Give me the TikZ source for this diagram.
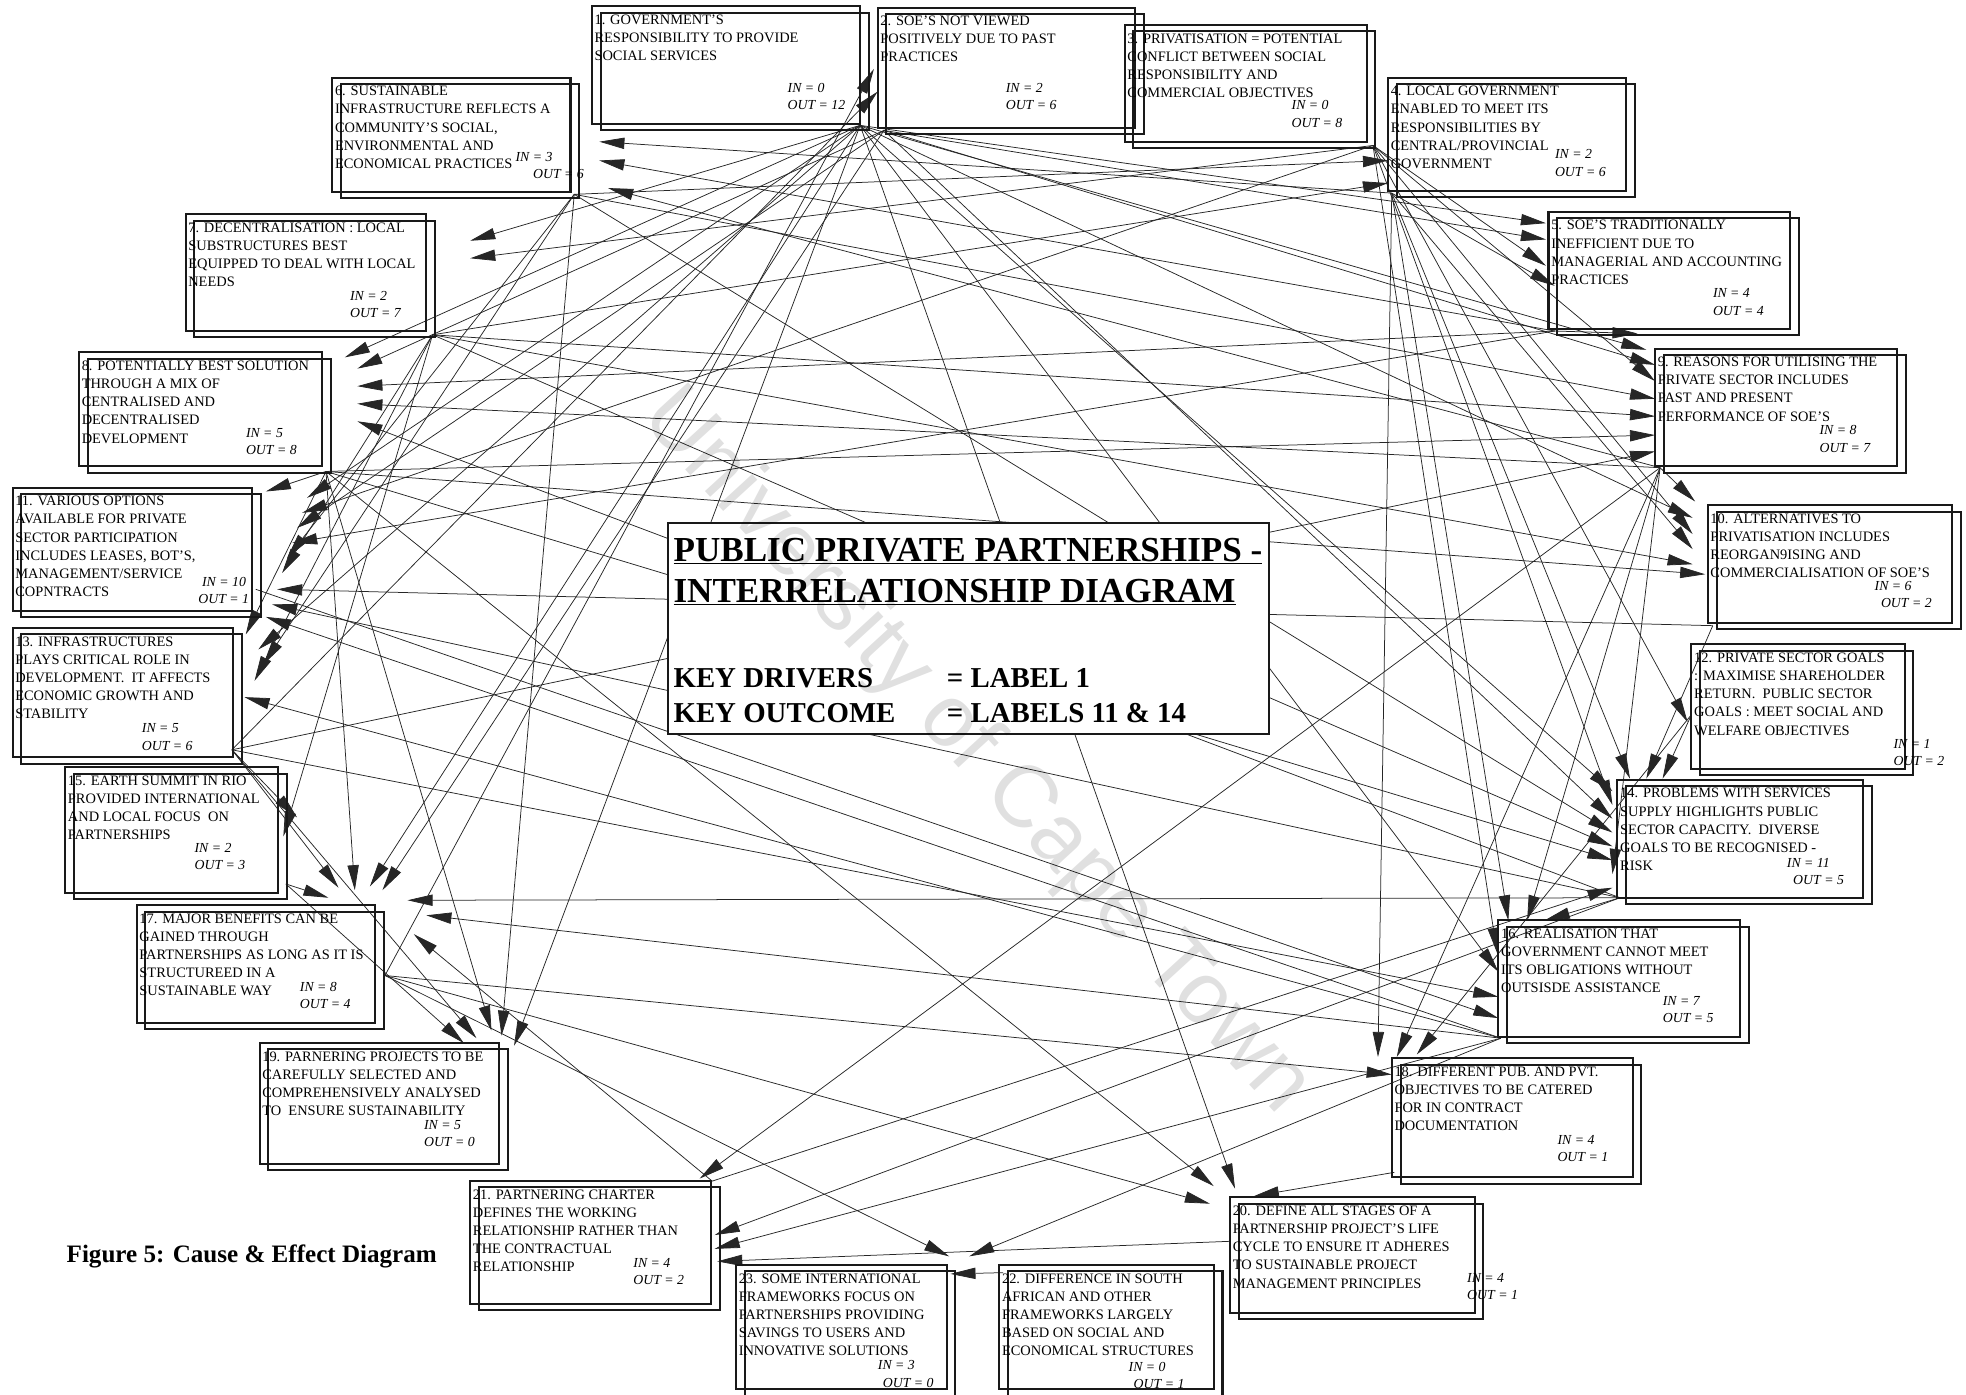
\documentclass[tikz,border=0pt]{standalone}
\usepackage{fontspec}
\setmainfont{Liberation Serif}
\setsansfont{Liberation Sans}
\usetikzlibrary{arrows.meta,calc}

\tikzset{
  boxA/.style={draw=black!90, line width=1.6pt, inner sep=0pt, outer sep=0pt, anchor=north west},
  boxB/.style={draw=black!90, line width=1.6pt},
  boxtext/.style={font=\fontsize{11.5}{14.5}\selectfont, align=left, inner sep=0pt, anchor=north west},
  tally/.style={font=\fontsize{11}{14}\selectfont\itshape, inner sep=0pt, anchor=west},
  conn/.style={draw=black!85, line width=0.6pt, -{Triangle[length=20pt,width=9pt]}},
  titletext/.style={font=\fontsize{28}{33}\selectfont\bfseries, inner sep=0pt, anchor=base west},
  keytext/.style={font=\fontsize{23}{28}\selectfont\bfseries, inner sep=0pt, anchor=base west},
}

% double-framed issue box: id, x1, y1, x2, y2, text
\newcommand\ppbox[6]{%
  \node[boxA, minimum width={#4-#2}, minimum height={#5-#3}] (b#1) at (#2,#3) {};
  \draw[boxB] ($(b#1.north west)+(7,5)$) rectangle ($(b#1.south east)+(7,5)$);
  \node[boxtext] (b#1t) at (#2+2,#3+6.5) {#6};}
% in/out tallies: id, x, y, in, out, shift of the OUT line
\newcommand\ppcount[6]{%
  \node[tally] (b#1i) at (#2,#3) {IN = #4};
  \node[tally] (b#1o) at (#2+#6,#3+14) {OUT = #5};}

\begin{document}
\begin{tikzpicture}[x=1pt,y=-1pt]
\useasboundingbox (0,0) rectangle (1568,1112);

% ---------- start points of the connectors ----------
\coordinate (o1) at (686,100);
\coordinate (o2) at (705,104);
\coordinate (o3) at (1095,116);
\coordinate (o4) at (1110,154);
\coordinate (o5) at (1240,264);
\coordinate (o6) at (458,155);
\coordinate (o7) at (345,267);
\coordinate (o8) at (260,376);
\coordinate (o9) at (1324,373);
\coordinate (o10) at (1366,499);
\coordinate (o11) at (204,470);
\coordinate (o12) at (1349,570);
\coordinate (o13) at (185,598);
\coordinate (o14) at (1292,716);
\coordinate (o15) at (228,705);
\coordinate (o16) at (1197,828);
\coordinate (o17) at (307,778);
\coordinate (o18) at (1112,935);
\coordinate (o20) at (981,990);
\coordinate (o21) at (568,942);
\coordinate (o22) at (800,1015);

% ---------- arrow tips ----------
\coordinate (t2a) at (697,55);  \coordinate (t2b) at (700,73);
\coordinate (t4a) at (1107,128); \coordinate (t4b) at (1107,146);
\coordinate (t5a) at (1233,178); \coordinate (t5b) at (1233,191);
\coordinate (t5c) at (1233,212); \coordinate (t5d) at (1240,228);
\coordinate (t6a) at (478,113); \coordinate (t6b) at (478,128); \coordinate (t6c) at (485,150);
\coordinate (t7a) at (375,192); \coordinate (t7b) at (375,206);
\coordinate (t8a) at (275,285); \coordinate (t8b) at (285,294); \coordinate (t8c) at (285,308);
\coordinate (t8d) at (285,322); \coordinate (t8e) at (285,336);
\coordinate (t9a) at (1306,266); \coordinate (t9b) at (1313,279); \coordinate (t9c) at (1320,291);
\coordinate (t9d) at (1320,304); \coordinate (t9e) at (1320,318); \coordinate (t9f) at (1320,332);
\coordinate (t9g) at (1320,347); \coordinate (t9h) at (1320,360);
\coordinate (t10a) at (1352,400); \coordinate (t10b) at (1350,413); \coordinate (t10c) at (1350,426);
\coordinate (t10d) at (1350,438); \coordinate (t10e) at (1350,450); \coordinate (t10f) at (1360,458);
\coordinate (t11a) at (212,392); \coordinate (t11b) at (245,397); \coordinate (t11c) at (241,409);
\coordinate (t11d) at (237,421); \coordinate (t11e) at (233,433); \coordinate (t11f) at (229,445);
\coordinate (t11g) at (225,457); \coordinate (t11h) at (221,470); \coordinate (t11i) at (217,482);
\coordinate (t11j) at (212,492);
\coordinate (t12a) at (1346,576);
\coordinate (t13a) at (196,506); \coordinate (t13b) at (206,518); \coordinate (t13c) at (210,530);
\coordinate (t13d) at (203,543); \coordinate (t13e) at (195,556);
\coordinate (t14a) at (1300,621); \coordinate (t14b) at (1313,621); \coordinate (t14c) at (1326,621);
\coordinate (t14d) at (1286,631); \coordinate (t14e) at (1286,642); \coordinate (t14f) at (1286,653);
\coordinate (t14g) at (1286,664); \coordinate (t14h) at (1286,675); \coordinate (t14i) at (1286,686);
\coordinate (t14j) at (1286,697); \coordinate (t14k) at (1286,708);
\coordinate (t15a) at (237,652); \coordinate (t15b) at (226,667);
\coordinate (t16a) at (1203,734); \coordinate (t16b) at (1218,734); \coordinate (t16c) at (1232,734);
\coordinate (t16d) at (1194,760); \coordinate (t16e) at (1195,775); \coordinate (t16f) at (1195,795);
\coordinate (t16g) at (1195,812);
\coordinate (t17a) at (262,716); \coordinate (t17b) at (270,708); \coordinate (t17c) at (283,710);
\coordinate (t17d) at (295,707); \coordinate (t17e) at (305,710); \coordinate (t17f) at (325,718);
\coordinate (t17g) at (340,730); \coordinate (t17h) at (330,745);
\coordinate (t18a) at (1099,843); \coordinate (t18b) at (1114,843); \coordinate (t18c) at (1130,841);
\coordinate (t18d) at (1110,857);
\coordinate (t19a) at (370,832); \coordinate (t19b) at (380,828); \coordinate (t19c) at (392,822);
\coordinate (t19d) at (400,826); \coordinate (t19e) at (410,834);
\coordinate (t20a) at (968,946); \coordinate (t20b) at (965,960); \coordinate (t20c) at (985,948);
\coordinate (t20d) at (1000,954);
\coordinate (t21a) at (558,940); \coordinate (t21b) at (570,985); \coordinate (t21c) at (570,996);
\coordinate (t21d) at (572,1006);
\coordinate (t23a) at (757,1002); \coordinate (t23b) at (773,1002); \coordinate (t23c) at (758,1016);

% ---------- cause -> effect connectors ----------
\foreach \s/\t in {
  o1/t5a, o1/t7a, o1/t8a, o1/t9b, o1/t10b, o1/t11b, o1/t13b, o1/t14d, o1/t16e, o1/t17d, o1/t19e, o1/t20c,
  o2/t5b, o2/t8b, o2/t9c, o2/t11d, o2/t14f, o2/t17e,
  o3/t5c, o3/t7b, o3/t9d, o3/t10c, o3/t11c, o3/t12a, o3/t14e, o3/t16d,
  o4/t5d, o4/t6a, o4/t10d, o4/t14a, o4/t16a, o4/t18a,
  o5/t6b, o5/t8c, o5/t9a, o5/t11e,
  o6/t4a, o6/t9e, o6/t11f, o6/t13c, o6/t14g, o6/t19d,
  o7/t4b, o7/t9f, o7/t10e, o7/t11g, o7/t13d, o7/t14h, o7/t15b,
  o8/t9g, o8/t10f, o8/t11a, o8/t13a, o8/t14i, o8/t17c, o8/t19c, o8/t20a,
  o9/t6c, o9/t8d, o9/t10a, o9/t14j, o9/t16b, o9/t18b, o9/t21a,
  o10/t11h, o10/t14b,
  o11/t16g,
  o12/t14c, o12/t18c,
  o13/t2b, o13/t9h, o13/t15a, o13/t16f, o13/t17b, o13/t19b,
  o14/t8e, o14/t11i, o14/t16c, o14/t17f, o14/t21b,
  o15/t17a, o15/t19a,
  o16/t11j, o16/t13e, o16/t17g, o16/t21c, o16/t23b,
  o17/t2a, o17/t18d, o17/t20b, o17/t23a,
  o18/t20d, o20/t21d, o21/t14k, o21/t17h, o22/t23c}
  \draw[conn] (\s) -- (\t);

% ---------- issue boxes ----------
\ppbox{1}{472}{5}{686}{99}{1. GOVERNMENT'S\\RESPONSIBILITY TO PROVIDE\\SOCIAL SERVICES}
\ppcount{1}{628}{70}{0}{12}{0}
\ppbox{2}{700}{6}{905}{102}{2. SOE'S NOT VIEWED\\POSITIVELY DUE TO PAST\\PRACTICES}
\ppcount{2}{802}{70}{2}{6}{0}
\ppbox{3}{897}{20}{1090}{113}{3. PRIVATISATION = POTENTIAL\\CONFLICT BETWEEN SOCIAL\\RESPONSIBILITY AND\\COMMERCIAL OBJECTIVES}
\ppcount{3}{1030}{84}{0}{8}{0}
\ppbox{4}{1107}{62}{1297}{152}{4. LOCAL GOVERNMENT\\ENABLED TO MEET ITS\\RESPONSIBILITIES BY\\CENTRAL/PROVINCIAL\\GOVERNMENT}
\ppcount{4}{1240}{123}{2}{6}{0}
\ppbox{5}{1235}{169}{1428}{262}{5. SOE'S TRADITIONALLY\\INEFFICIENT DUE TO\\MANAGERIAL AND ACCOUNTING\\PRACTICES}
\ppcount{5}{1366}{234}{4}{4}{0}
\ppbox{6}{265}{62}{455}{153}{6. SUSTAINABLE\\INFRASTRUCTURE REFLECTS A\\COMMUNITY'S SOCIAL,\\ENVIRONMENTAL AND\\ECONOMICAL PRACTICES}
\ppcount{6}{411}{125}{3}{6}{14}
\ppbox{7}{148}{171}{340}{264}{7. DECENTRALISATION : LOCAL\\SUBSTRUCTURES BEST\\EQUIPPED TO DEAL WITH LOCAL\\NEEDS}
\ppcount{7}{279}{236}{2}{7}{0}
\ppbox{8}{63}{281}{257}{372}{8. POTENTIALLY BEST SOLUTION\\THROUGH A MIX OF\\CENTRALISED AND\\DECENTRALISED\\DEVELOPMENT}
\ppcount{8}{196}{345}{5}{8}{0}
\ppbox{9}{1320}{278}{1513}{372}{9. REASONS FOR UTILISING THE\\PRIVATE SECTOR INCLUDES\\PAST AND PRESENT\\PERFORMANCE OF SOE'S}
\ppcount{9}{1451}{343}{8}{7}{0}
\ppbox{10}{1362}{403}{1557}{497}{10. ALTERNATIVES TO\\PRIVATISATION INCLUDES\\REORGAN9ISING AND\\COMMERCIALISATION OF SOE'S}
\ppcount{10}{1495}{467}{6}{2}{5}
\ppbox{11}{10}{389}{201}{487}{11. VARIOUS OPTIONS\\AVAILABLE FOR PRIVATE\\SECTOR PARTICIPATION\\INCLUDES LEASES, BOT'S,\\MANAGEMENT/SERVICE\\COPNTRACTS}
\ppcount{11}{161}{464}{10}{1}{-3}
\ppbox{12}{1349}{514}{1519}{613}{12. PRIVATE SECTOR GOALS\\: MAXIMISE SHAREHOLDER\\RETURN.~ PUBLIC SECTOR\\GOALS : MEET SOCIAL AND\\WELFARE OBJECTIVES}
\ppcount{12}{1510}{593}{1}{2}{0}
\ppbox{13}{10}{501}{186}{604}{13. INFRASTRUCTURES\\PLAYS CRITICAL ROLE IN\\DEVELOPMENT.~ IT AFFECTS\\ECONOMIC GROWTH AND\\STABILITY}
\ppcount{13}{113}{581}{5}{6}{0}
\ppbox{14}{1290}{622}{1486}{716}{14. PROBLEMS WITH SERVICES\\SUPPLY HIGHLIGHTS PUBLIC\\SECTOR CAPACITY.~ DIVERSE\\GOALS TO BE RECOGNISED -\\RISK}
\ppcount{14}{1425}{688}{11}{5}{5}
\ppbox{15}{52}{612}{222}{712}{15. EARTH SUMMIT IN RIO\\PROVIDED INTERNATIONAL\\AND LOCAL FOCUS~ ON\\PARTNERSHIPS}
\ppcount{15}{155}{676}{2}{3}{0}
\ppbox{16}{1195}{734}{1388}{827}{16. REALISATION THAT\\GOVERNMENT CANNOT MEET\\ITS OBLIGATIONS WITHOUT\\OUTSISDE ASSISTANCE}
\ppcount{16}{1326}{798}{7}{5}{0}
\ppbox{17}{109}{722}{299}{816}{17. MAJOR BENEFITS CAN BE\\GAINED THROUGH\\PARTNERSHIPS AS LONG AS IT IS\\STRUCTUREED IN A\\SUSTAINABLE WAY}
\ppcount{17}{239}{787}{8}{4}{0}
\ppbox{18}{1110}{844}{1302}{939}{18. DIFFERENT PUB. AND PVT.\\OBJECTIVES TO BE CATERED\\FOR IN CONTRACT\\DOCUMENTATION}
\ppcount{18}{1242}{909}{4}{1}{0}
\ppbox{19}{207}{832}{398}{928}{19. PARNERING PROJECTS TO BE\\CAREFULLY SELECTED AND\\COMPREHENSIVELY ANALYSED\\TO~ ENSURE SUSTAINABILITY}
\ppcount{19}{338}{897}{5}{0}{0}
\ppbox{20}{981}{955}{1176}{1047}{20. DEFINE ALL STAGES OF A\\PARTNERSHIP PROJECT'S LIFE\\CYCLE TO ENSURE IT ADHERES\\TO SUSTAINABLE PROJECT\\MANAGEMENT PRINCIPLES}
\ppcount{20}{1170}{1019}{4}{1}{0}
\ppbox{21}{375}{942}{567}{1040}{21. PARTNERING CHARTER\\DEFINES THE WORKING\\RELATIONSHIP RATHER THAN\\THE CONTRACTUAL\\RELATIONSHIP}
\ppcount{21}{505}{1007}{4}{2}{0}
\ppbox{22}{797}{1009}{968}{1108}{22. DIFFERENCE IN SOUTH\\AFRICAN AND OTHER\\FRAMEWORKS LARGELY\\BASED ON SOCIAL AND\\ECONOMICAL STRUCTURES}
\ppcount{22}{900}{1090}{0}{1}{4}
\ppbox{23}{587}{1009}{755}{1108}{23. SOME INTERNATIONAL\\FRAMEWORKS FOCUS ON\\PARTNERSHIPS PROVIDING\\SAVINGS TO USERS AND\\INNOVATIVE SOLUTIONS}
\ppcount{23}{700}{1089}{3}{0}{4}

% ---------- central key ----------
\node[draw=black!90, line width=1.6pt, fill=white, inner sep=0pt, outer sep=0pt,
      anchor=north west, minimum width=479, minimum height=168] (key) at (533,417) {};
\node[titletext] (ttl1) at (537,447.5) {\underline{PUBLIC PRIVATE PARTNERSHIPS -}};
\node[titletext] (ttl2) at (537,480.5) {\underline{INTERRELATIONSHIP DIAGRAM}};
\node[keytext] (kd) at (537,548) {KEY DRIVERS};
\node[keytext] (kdv) at (755,548) {= LABEL 1};
\node[keytext] (ko) at (537,576) {KEY OUTCOME};
\node[keytext] (kov) at (755,576) {= LABELS 11 \& 14};

% ---------- caption ----------
\node[font=\fontsize{20}{24}\selectfont\bfseries, inner sep=0pt, anchor=base west] (cap)
  at (53,1007) {Figure 5: Cause \& Effect Diagram};

% ---------- watermark ----------
\node[font=\fontsize{70}{80}\selectfont\sffamily, text=black, text opacity=0.12,
      rotate=-47.5, inner sep=0pt] (wm) at (778,600) {University of Cape Town};
\end{tikzpicture}
\end{document}
